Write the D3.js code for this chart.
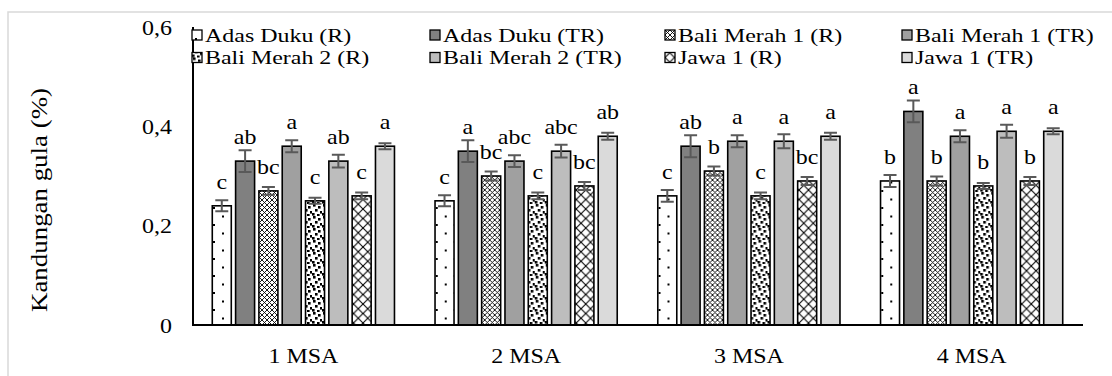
<!DOCTYPE html>
<html>
<head>
<meta charset="utf-8">
<script src="https://cdn.jsdelivr.net/npm/d3@7"></script>
<style>
  html, body { margin: 0; padding: 0; background: #fff; }
  svg text { font-family: "Liberation Serif", "Times New Roman", Times, serif; fill: #000; }
</style>
</head>
<body>
<svg id="chart" width="1112" height="376"></svg>
<script>
// Sugar content per sampling time (MSA) for each variety / treatment
const categories = ["1 MSA", "2 MSA", "3 MSA", "4 MSA"];
const seriesNames = [
  "Adas Duku (R)", "Adas Duku (TR)",
  "Bali Merah 1 (R)", "Bali Merah 1 (TR)",
  "Bali Merah 2 (R)", "Bali Merah 2 (TR)",
  "Jawa 1 (R)", "Jawa 1 (TR)"
];
// mean values, one entry per category
const adasDukuR   = [0.24, 0.25, 0.26, 0.29];
const adasDukuTR  = [0.33, 0.35, 0.36, 0.43];
const baliMerah1R  = [0.27, 0.30, 0.31, 0.29];
const baliMerah1TR = [0.36, 0.33, 0.37, 0.38];
const baliMerah2R  = [0.25, 0.26, 0.26, 0.28];
const baliMerah2TR = [0.33, 0.35, 0.37, 0.39];
const jawa1R   = [0.26, 0.28, 0.29, 0.29];
const jawa1TR  = [0.36, 0.38, 0.38, 0.39];
// standard errors
const errAdasDukuR   = [0.011, 0.011, 0.012, 0.012];
const errAdasDukuTR  = [0.022, 0.022, 0.022, 0.022];
const errBaliMerah1R  = [0.008, 0.009, 0.009, 0.009];
const errBaliMerah1TR = [0.012, 0.012, 0.012, 0.012];
const errBaliMerah2R  = [0.006, 0.007, 0.007, 0.006];
const errBaliMerah2TR = [0.013, 0.013, 0.014, 0.013];
const errJawa1R   = [0.007, 0.008, 0.008, 0.008];
const errJawa1TR  = [0.006, 0.007, 0.007, 0.006];
// significance letters
const lettersAdasDukuR   = ["c", "c", "c", "b"];
const lettersAdasDukuTR  = ["ab", "a", "ab", "a"];
const lettersBaliMerah1R  = ["bc", "bc", "b", "b"];
const lettersBaliMerah1TR = ["a", "abc", "a", "a"];
const lettersBaliMerah2R  = ["c", "c", "c", "b"];
const lettersBaliMerah2TR = ["ab", "abc", "a", "a"];
const lettersJawa1R   = ["c", "bc", "bc", "b"];
const lettersJawa1TR  = ["a", "ab", "a", "a"];
const yTicks = [0, 0.2, 0.4, 0.6];
const yTickLabels = ["0", "0,2", "0,4", "0,6"];

const values = [adasDukuR, adasDukuTR, baliMerah1R, baliMerah1TR, baliMerah2R, baliMerah2TR, jawa1R, jawa1TR];
const errors = [errAdasDukuR, errAdasDukuTR, errBaliMerah1R, errBaliMerah1TR, errBaliMerah2R, errBaliMerah2TR, errJawa1R, errJawa1TR];
const letters = [lettersAdasDukuR, lettersAdasDukuTR, lettersBaliMerah1R, lettersBaliMerah1TR, lettersBaliMerah2R, lettersBaliMerah2TR, lettersJawa1R, lettersJawa1TR];

const FONT = '"Liberation Serif", "Times New Roman", Times, serif';

const svg = d3.select("#chart");
const defs = svg.append("defs");

// text helper: places a (slightly widened) label at x,y
function label(sel, x, y, str, anchor, dy, size, sx) {
  return sel.append("text")
    .attr("transform", `translate(${x},${y}) scale(${sx || 1.09},1)`)
    .attr("font-family", FONT).attr("font-size", size || 22)
    .attr("text-anchor", anchor).attr("dy", dy || 0)
    .text(str);
}

// ---- fill patterns ----
function pat(id, w, h, build) {
  const p = defs.append("pattern").attr("id", id)
    .attr("patternUnits", "userSpaceOnUse").attr("width", w).attr("height", h);
  p.append("rect").attr("width", w).attr("height", h).attr("fill", "#fff");
  build(p);
}
// sparse dots
pat("pDots", 18, 17, p => {
  p.append("rect").attr("x", 3).attr("y", 3).attr("width", 2).attr("height", 2).attr("fill", "#000");
  p.append("rect").attr("x", 12).attr("y", 11.5).attr("width", 2).attr("height", 2).attr("fill", "#000");
});
// fine diamond checker
pat("pCheck", 5, 5, p => {
  p.append("path").attr("d", "M0,0L5,5M5,0L0,5").attr("stroke", "#000").attr("stroke-width", 0.9);
});
// confetti squares
pat("pConfetti", 10, 12, p => {
  [[1,0],[6,2],[3,5],[8,7],[0,9],[5,10]].forEach(([x,y]) =>
    p.append("rect").attr("x", x).attr("y", y).attr("width", 2.6).attr("height", 2.6).attr("fill", "#000"));
});
// diamond lattice
pat("pLattice", 9.5, 9.5, p => {
  p.append("path").attr("d", "M0,0L9.5,9.5M9.5,0L0,9.5").attr("stroke", "#000").attr("stroke-width", 1.1);
});

const fills = ["url(#pDots)", "#808080", "url(#pCheck)", "#a0a0a0",
               "url(#pConfetti)", "#bdbdbd", "url(#pLattice)", "#dadada"];

// ---- frame ----
svg.append("path").attr("d", "M8,376V12H1112").attr("fill", "none")
  .attr("stroke", "#d9d9d9").attr("stroke-width", 1.5);

// ---- scales ----
const x0 = d3.scaleBand().domain(categories).range([192, 1083]).paddingInner(0).paddingOuter(0);
const x1 = d3.scaleBand().domain(seriesNames).range([0, x0.bandwidth()])
  .paddingInner(0.185).paddingOuter(0.87);
const y = d3.scaleLinear().domain([0, 0.6]).range([325, 27]);

// ---- bars ----
const groups = svg.append("g").selectAll("g").data(categories).join("g")
  .attr("transform", d => `translate(${x0(d)},0)`);

groups.each(function(cat, ci) {
  const g = d3.select(this);
  seriesNames.forEach((s, si) => {
    const v = values[si][ci], e = errors[si][ci];
    const bx = x1(s), bw = x1.bandwidth(), cx = bx + bw / 2;
    g.append("rect").attr("x", bx).attr("y", y(v)).attr("width", bw).attr("height", y(0) - y(v))
      .attr("fill", fills[si]).attr("stroke", "#000").attr("stroke-width", 1.6);
    // error bar
    g.append("path")
      .attr("d", `M${cx},${y(v + e)}V${y(v - e)}M${cx - 6.5},${y(v + e)}H${cx + 6.5}M${cx - 6.5},${y(v - e)}H${cx + 6.5}`)
      .attr("stroke", "#595959").attr("stroke-width", 2).attr("fill", "none");
    // significance letter
    label(g, cx, y(v) - 17, letters[si][ci], "middle");
  });
});

// ---- axes ----
svg.append("line").attr("x1", 192).attr("x2", 1083).attr("y1", y(0)).attr("y2", y(0))
  .attr("stroke", "#000").attr("stroke-width", 2);
svg.append("line").attr("x1", 193).attr("x2", 193).attr("y1", y(0)).attr("y2", y(0.6))
  .attr("stroke", "#000").attr("stroke-width", 2);

const yLab = svg.append("g");
yTicks.forEach((t, i) => label(yLab, 172, y(t), yTickLabels[i], "end", "0.35em"));

const xLab = svg.append("g");
categories.forEach(c => label(xLab, x0(c) + x0.bandwidth() / 2, 363, c, "middle"));

svg.append("text").attr("transform", "translate(47,200) rotate(-90)")
  .attr("font-family", FONT).attr("font-size", 23)
  .attr("text-anchor", "middle").attr("textLength", 224).attr("lengthAdjust", "spacingAndGlyphs")
  .text("Kandungan gula (%)");

// ---- legend ----
const legendCols = [192, 430, 665, 902];
const legendRows = [35, 57.5];
const legend = svg.append("g").selectAll("g").data(seriesNames).join("g")
  .attr("transform", (d, i) => `translate(${legendCols[i % 4]},${legendRows[Math.floor(i / 4)]})`);
legend.append("rect").attr("x", 0).attr("y", -5).attr("width", 10).attr("height", 10)
  .attr("fill", (d, i) => fills[i]).attr("stroke", "#000").attr("stroke-width", 1.3);
legend.each(function(d) { label(d3.select(this), 13, 0, d, "start", "0.35em", 19, 1.26); });
</script>
</body>
</html>
